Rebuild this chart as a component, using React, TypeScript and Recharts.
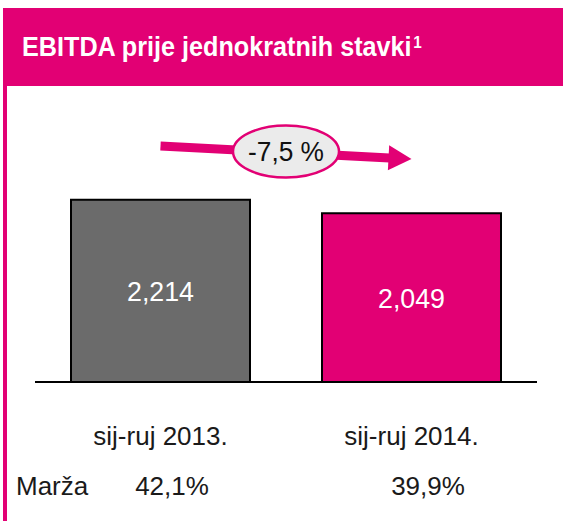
import React from "react";
import { BarChart, Bar, XAxis, YAxis, Cell, LabelList, ReferenceLine } from "recharts";

const categories = ["sij-ruj 2013.", "sij-ruj 2014."];
const ebitda = [2214, 2049];
const valueLabels = ["2,214", "2,049"];
const marginLabels = ["42,1%", "39,9%"];
const changeLabel = "-7,5 %";
// arrow endpoints, in value units, above each bar
const arrowLevels = [2866, 2708];

const MAGENTA = "#e20074";
const barColors = ["#6b6b6b", MAGENTA];
const FONT = "'Liberation Sans', Arial, Helvetica, sans-serif";

const data = categories.map((name, i) => ({ name, value: ebitda[i], label: valueLabels[i] }));

function CategoryTick(props: any) {
  const { x, y, payload } = props;
  return (
    <text x={x} y={y + 63} textAnchor="middle" fontSize={26} fill="#1a1a1a" fontFamily={FONT}>
      {payload.value}
    </text>
  );
}

function ValueLabel(props: any) {
  const { x, y, width, height, value } = props;
  return (
    <text
      x={x + width / 2}
      y={y + height / 2 + 10}
      textAnchor="middle"
      fontSize={28}
      fill="#fff"
      fontFamily={FONT}
      textLength={67}
      lengthAdjust="spacingAndGlyphs"
    >
      {value}
    </text>
  );
}

// trend arrow with the change bubble in the middle
function TrendArrow(props: any) {
  const { x1, y1, x2, y2 } = props;
  const dx = x2 - x1;
  const dy = y2 - y1;
  const len = Math.sqrt(dx * dx + dy * dy);
  const ux = dx / len;
  const uy = dy / len;
  const head = 23;
  const half = 12.5;
  const bx = x2 - ux * head;
  const by = y2 - uy * head;
  const cx = (x1 + x2) / 2;
  const cy = (y1 + y2) / 2 - 1;
  return (
    <g>
      <line x1={x1} y1={y1} x2={bx + ux} y2={by + uy} stroke={MAGENTA} strokeWidth={9} />
      <polygon
        points={`${x2},${y2} ${bx - uy * half},${by + ux * half} ${bx + uy * half},${by - ux * half}`}
        fill={MAGENTA}
      />
      <ellipse cx={cx} cy={cy} rx={53} ry={26} fill="#ebebeb" stroke={MAGENTA} strokeWidth={2.5} />
      <text
        x={cx}
        y={cy + 9.5}
        textAnchor="middle"
        fontSize={27}
        fill="#111"
        fontFamily={FONT}
        textLength={76}
        lengthAdjust="spacingAndGlyphs"
      >
        {changeLabel}
      </text>
    </g>
  );
}

export default function App() {
  return (
    <div style={{ position: "absolute", left: 0, top: 0, width: 563, height: 521, background: "#fff" }}>
      <div style={{ position: "absolute", left: 3, top: 8, width: 560, height: 78, background: MAGENTA }} />
      <div style={{ position: "absolute", left: 3, top: 86, width: 4, height: 435, background: MAGENTA }} />
      <div style={{ position: "absolute", left: 0, top: 0 }}>
        <BarChart width={563} height={521} data={data} margin={{ top: 135, right: 26, bottom: 69, left: 35 }}>
          <XAxis
            dataKey="name"
            height={70}
            axisLine={{ stroke: "#000", strokeWidth: 2 }}
            tickLine={false}
            tickSize={0}
            tickMargin={0}
            tick={<CategoryTick />}
          />
          <YAxis hide domain={[0, 3000]} />
          <Bar dataKey="value" barSize={179} stroke="#000" strokeWidth={2} isAnimationActive={false}>
            {data.map((d, i) => (
              <Cell key={d.name} fill={barColors[i]} />
            ))}
            <LabelList dataKey="label" content={<ValueLabel />} />
          </Bar>
          <ReferenceLine
            ifOverflow="visible"
            segment={[
              { x: categories[0], y: arrowLevels[0] },
              { x: categories[1], y: arrowLevels[1] },
            ]}
            shape={(p: any) => <TrendArrow {...p} />}
          />
        </BarChart>
      </div>
      <svg width={563} height={521} style={{ position: "absolute", left: 0, top: 0, pointerEvents: "none" }}>
        <text
          transform="translate(22,56) scale(0.9,1)"
          fontSize={28}
          fontWeight="bold"
          fill="#fff"
          fontFamily={FONT}
        >
          EBITDA prije jednokratnih stavki
          <tspan dx={2} dy={-8} fontSize={17}>
            1
          </tspan>
        </text>
        <text x={16} y={495} fontSize={26} fill="#1a1a1a" fontFamily={FONT}>
          Marža
        </text>
        <text x={172} y={495} textAnchor="middle" fontSize={26} fill="#1a1a1a" fontFamily={FONT}>
          {marginLabels[0]}
        </text>
        <text x={428} y={495} textAnchor="middle" fontSize={26} fill="#1a1a1a" fontFamily={FONT}>
          {marginLabels[1]}
        </text>
      </svg>
    </div>
  );
}
